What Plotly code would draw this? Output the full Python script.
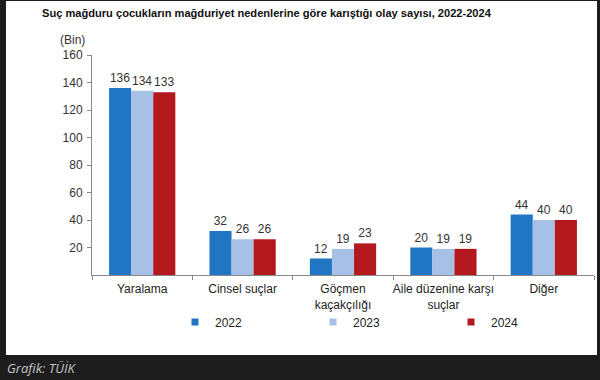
import plotly.graph_objects as go

categories = ["Yaralama", "Cinsel suçlar", "Göçmen<br>kaçakçılığı", "Aile düzenine karşı<br>suçlar", "Diğer"]
years = ["2022", "2023", "2024"]
v2022 = [136, 32, 12, 20, 44]
v2023 = [134, 26, 19, 19, 40]
v2024 = [133, 26, 23, 19, 40]
colors = ["#2176C3", "#A6C1E5", "#B3181C"]
y_ticks = [20, 40, 60, 80, 100, 120, 140, 160]

W, H = 600, 380
L, R, T, B = 92, 6, 55, 105
pw, ph = W - L - R, H - T - B

def px(x):
    return (x - L) / pw

def py(y):
    return (H - B - y) / ph

fig = go.Figure()
for name, vals, c in zip(years, [v2022, v2023, v2024], colors):
    fig.add_trace(go.Bar(
        x=categories, y=vals, name=name, marker=dict(color=c, line=dict(width=0)),
        text=[str(v) for v in vals], textposition="outside",
        textfont=dict(family="Liberation Sans", size=12, color="#333"),
        cliponaxis=False, showlegend=False,
    ))
    fig.add_trace(go.Scatter(
        x=[None], y=[None], mode="markers", name=name,
        marker=dict(symbol="square", size=7, color=c), showlegend=True,
    ))

fig.update_layout(
    width=W, height=H,
    margin=dict(l=L, r=R, t=T, b=B, autoexpand=False),
    paper_bgcolor="#1d1d1d", plot_bgcolor="rgba(0,0,0,0)",
    barmode="group", bargap=0.34, bargroupgap=0,
    font=dict(family="Liberation Sans", size=12, color="#333"),
    showlegend=True,
    legend=dict(orientation="h", x=px(175), xanchor="left", y=py(322), yanchor="middle",
                entrywidth=93, entrywidthmode="pixels", bgcolor="rgba(0,0,0,0)",
                font=dict(family="Liberation Sans", size=12, color="#222"),
                tracegroupgap=0, itemwidth=30),
    shapes=[dict(type="rect", xref="paper", yref="paper", x0=px(6), x1=px(597), y0=py(355), y1=py(1),
                 fillcolor="white", line=dict(width=0), layer="below")],
    annotations=[
        dict(text="<b>Suç mağduru çocukların mağduriyet nedenlerine göre karıştığı olay sayısı, 2022-2024</b>",
             xref="paper", yref="paper", x=px(40), y=py(13), xanchor="left", yanchor="middle",
             showarrow=False, font=dict(family="Liberation Sans", size=11.1, color="#111")),
        dict(text="(Bin)", xref="paper", yref="paper", x=px(72), y=py(40), xanchor="center", yanchor="middle",
             showarrow=False, font=dict(family="Liberation Sans", size=12, color="#333")),
        dict(text="<i>Grafik: TÜİK</i>", xref="paper", yref="paper", x=px(5), y=py(368), xanchor="left", yanchor="middle",
             showarrow=False, font=dict(family="Open Sans", size=13, color="#c4c4c4")),
    ],
)
fig.update_yaxes(range=[0, 160], tickvals=y_ticks, showgrid=False, zeroline=False, automargin=False,
                 showline=True, linecolor="#888", linewidth=1, ticks="outside", ticklen=4, tickcolor="#888",
                 ticklabelstandoff=2,
                 tickfont=dict(family="Liberation Sans", size=12, color="#333"))
fig.update_xaxes(showgrid=False, showline=True, linecolor="#888", linewidth=1, ticks="outside",
                 tickson="boundaries", ticklen=4, tickcolor="#888", tickangle=0, automargin=False,
                 ticklabelstandoff=3,
                 tickfont=dict(family="Liberation Sans", size=12, color="#222"))

fig.write_html("out.html", config={"displayModeBar": False},
               post_script="document.body.style.margin='0px';")
